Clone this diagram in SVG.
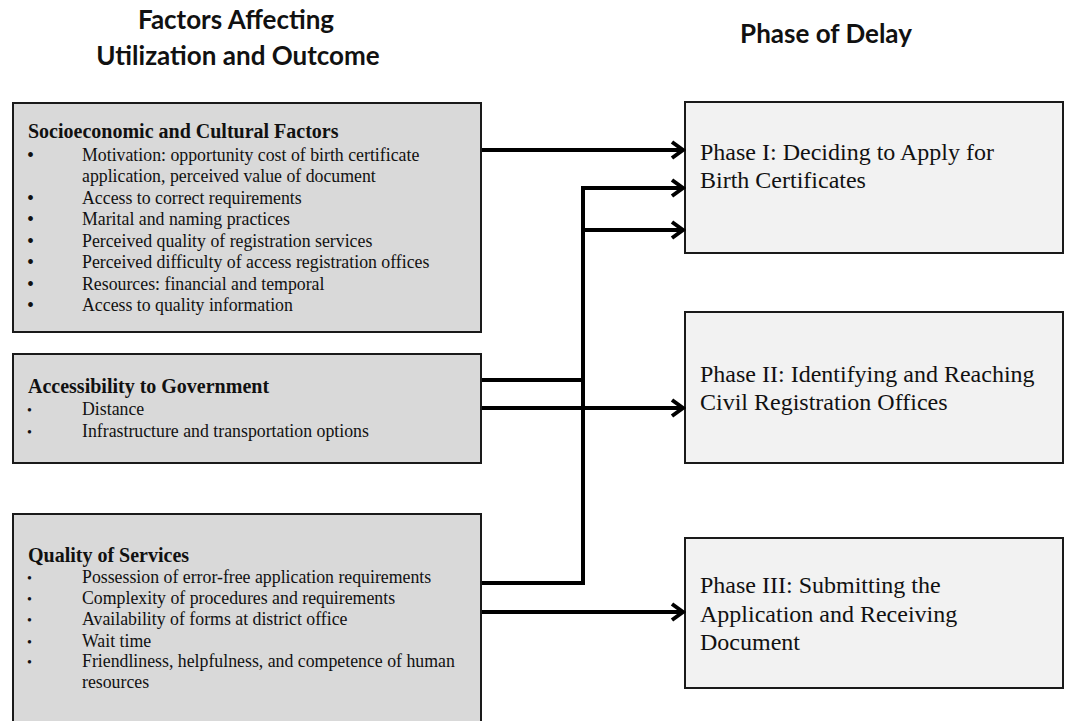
<svg xmlns="http://www.w3.org/2000/svg" width="1068" height="721" viewBox="0 0 1068 721">
<defs>
<style>
.title{font-family:Lato,"Open Sans","Liberation Sans",sans-serif;font-weight:bold;font-size:26px;fill:#111;text-anchor:middle}
.lbox{fill:#d9d9d9;stroke:#1a1a1a;stroke-width:2}
.rbox{fill:#f2f2f2;stroke:#1a1a1a;stroke-width:2}
.head{font-family:"Liberation Serif","Times New Roman",serif;font-weight:bold;font-size:20px;fill:#111}
.item{font-family:"Liberation Serif","Times New Roman",serif;font-size:17.8px;fill:#111}
.bul{font-family:"Liberation Serif",serif;font-size:20px;fill:#111}
.bul2{font-family:"Liberation Serif",serif;font-size:14px;fill:#111}
.phase{font-family:"Liberation Serif","Times New Roman",serif;font-size:24px;fill:#111}
.conn{fill:none;stroke:#000;stroke-width:4}
</style>
<marker id="arr" markerUnits="userSpaceOnUse" viewBox="0 0 16 20" markerWidth="16" markerHeight="20" refX="13" refY="10" orient="auto">
<path d="M2,2 L13,10 L2,18" fill="none" stroke="#000" stroke-width="4" stroke-linejoin="miter"/>
</marker>
</defs>
<rect width="1068" height="721" fill="#fff"/>

<g id="titles">
<text class="title" x="236" y="29">Factors Affecting</text>
<text class="title" x="238" y="65">Utilization and Outcome</text>
<text class="title" font-size="25.5" x="826" y="43">Phase of Delay</text>
</g>

<g id="socio">
<rect class="lbox" x="13" y="103" width="468" height="229"/>
<text class="head" x="28" y="138">Socioeconomic and Cultural Factors</text>
<g class="bul">
<text x="27" y="162">•</text><text x="27" y="205">•</text><text x="27" y="226">•</text><text x="27" y="248">•</text><text x="27" y="269">•</text><text x="27" y="291">•</text><text x="27" y="312">•</text>
</g>
<g class="item">
<text x="82" y="161">Motivation:  opportunity cost of birth certificate</text>
<text x="82" y="182">application,  perceived value  of document</text>
<text x="82" y="204">Access to correct requirements</text>
<text x="82" y="225">Marital  and naming  practices</text>
<text x="82" y="247">Perceived quality of registration  services</text>
<text x="82" y="268">Perceived difficulty  of access registration  offices</text>
<text x="82" y="290">Resources: financial  and temporal</text>
<text x="82" y="311">Access to quality  information</text>
</g>
</g>

<g id="access">
<rect class="lbox" x="13" y="354" width="468" height="109"/>
<text class="head" x="28" y="393">Accessibility to Government</text>
<g class="bul2"><text x="27" y="415">•</text><text x="27" y="437">•</text></g>
<g class="item">
<text x="82" y="415">Distance</text>
<text x="82" y="437">Infrastructure  and transportation options</text>
</g>
</g>

<g id="quality">
<rect class="lbox" x="13" y="514" width="468" height="215"/>
<text class="head" x="28" y="562">Quality  of Services</text>
<g class="bul2"><text x="27" y="583">•</text><text x="27" y="604">•</text><text x="27" y="625">•</text><text x="27" y="647">•</text><text x="27" y="667">•</text></g>
<g class="item">
<text x="82" y="583">Possession of error-free  application  requirements</text>
<text x="82" y="604">Complexity  of procedures and requirements</text>
<text x="82" y="625">Availability  of forms at district office</text>
<text x="82" y="647">Wait  time</text>
<text x="82" y="667">Friendliness,  helpfulness,  and competence of human</text>
<text x="82" y="688">resources</text>
</g>
</g>

<g id="phase1">
<rect class="rbox" x="685" y="102" width="378" height="151"/>
<text class="phase" x="700" y="160">Phase I: Deciding to Apply for</text>
<text class="phase" x="700" y="188">Birth Certificates</text>
</g>

<g id="phase2">
<rect class="rbox" x="685" y="312" width="378" height="151"/>
<text class="phase" x="700" y="382">Phase II: Identifying and Reaching</text>
<text class="phase" x="700" y="410">Civil  Registration Offices</text>
</g>

<g id="phase3">
<rect class="rbox" x="685" y="538" width="378" height="150"/>
<text class="phase" x="700" y="593">Phase III: Submitting the</text>
<text class="phase" x="700" y="622">Application and Receiving</text>
<text class="phase" x="700" y="650">Document</text>
</g>

<g id="connectors">
<path class="conn" d="M482,150 H683" marker-end="url(#arr)"/>
<path class="conn" d="M482,583 H583 V188 H683" marker-end="url(#arr)"/>
<path class="conn" d="M583,230 H683" marker-end="url(#arr)"/>
<path class="conn" d="M482,380 H583"/>
<path class="conn" d="M482,408 H683" marker-end="url(#arr)"/>
<path class="conn" d="M482,612 H683" marker-end="url(#arr)"/>
</g>
</svg>
